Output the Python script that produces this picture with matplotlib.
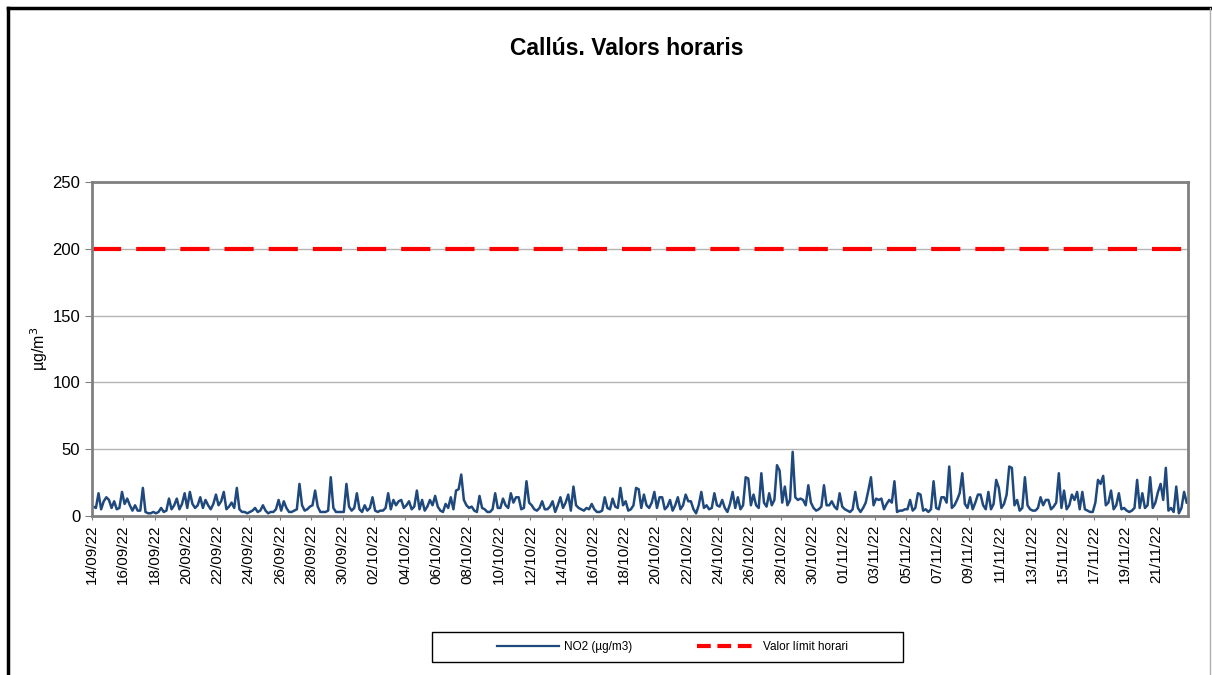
import numpy as np
import pandas as pd
import matplotlib
matplotlib.use("Agg")
import matplotlib.pyplot as plt
from matplotlib.lines import Line2D
from matplotlib.patches import Rectangle

plt.rcParams['font.family'] = ['Liberation Sans', 'DejaVu Sans']

# NO2 hourly values, 6 readings per day (02,06,10,14,18,22 h)
no2_per_day = [
    [7, 6, 17, 5, 11, 14], [12, 6, 11, 5, 6, 18], [9, 13, 8, 4, 8, 4], [4, 21, 3, 2, 2, 3],
    [2, 3, 6, 3, 4, 13], [5, 8, 13, 5, 9, 17], [6, 18, 9, 6, 8, 14], [6, 12, 8, 5, 9, 16],
    [8, 11, 18, 5, 7, 10], [6, 21, 5, 3, 3, 2], [3, 4, 6, 3, 4, 8], [4, 2, 3, 3, 5, 12],
    [4, 11, 6, 3, 3, 4], [5, 24, 8, 4, 5, 7], [8, 19, 7, 3, 3, 3], [4, 29, 6, 3, 3, 3],
    [3, 24, 7, 4, 6, 17], [5, 3, 8, 4, 6, 14], [4, 3, 4, 4, 6, 17], [5, 12, 8, 11, 12, 6],
    [8, 11, 5, 7, 19, 5], [12, 4, 7, 12, 8, 15], [7, 4, 3, 9, 6, 14], [5, 19, 20, 31, 12, 8],
    [6, 7, 4, 3, 15, 6], [5, 3, 3, 5, 17, 6], [6, 13, 8, 6, 17, 10], [14, 14, 5, 6, 26, 10],
    [8, 5, 4, 6, 11, 5], [5, 7, 11, 3, 8, 14], [6, 10, 16, 4, 22, 8], [6, 5, 4, 6, 5, 9],
    [5, 3, 3, 4, 14, 6], [5, 13, 7, 6, 21, 8], [11, 4, 5, 8, 21, 20], [6, 16, 8, 6, 10, 18],
    [6, 14, 14, 5, 7, 12], [4, 8, 14, 5, 8, 16], [11, 11, 5, 2, 8, 18], [6, 8, 5, 6, 17, 8],
    [7, 12, 6, 3, 9, 18], [6, 14, 5, 8, 29, 28], [8, 16, 8, 6, 32, 10], [7, 17, 8, 12, 38, 34],
    [10, 22, 8, 12, 48, 14], [12, 13, 12, 8, 23, 10], [6, 4, 5, 7, 23, 8], [8, 11, 7, 5, 17, 7],
    [5, 4, 3, 5, 18, 6], [3, 6, 10, 19, 29, 8], [13, 12, 13, 5, 9, 12], [10, 26, 3, 4, 4, 5],
    [5, 12, 4, 6, 17, 16], [4, 5, 3, 5, 26, 6], [5, 14, 14, 10, 37, 6], [8, 12, 17, 32, 9, 6],
    [14, 5, 10, 16, 16, 8], [5, 18, 5, 9, 27, 21], [6, 9, 16, 37, 36, 8], [12, 4, 6, 29, 8, 5],
    [4, 4, 6, 14, 8, 12], [12, 5, 7, 10, 32, 6], [19, 5, 8, 16, 12, 18], [5, 18, 5, 4, 3, 3],
    [10, 27, 24, 30, 8, 10], [19, 5, 8, 17, 5, 6], [4, 3, 4, 6, 27, 6], [17, 6, 8, 29, 6, 10],
    [18, 24, 12, 36, 4, 6], [3, 22, 2, 6, 18, 10],
]
no2 = np.array(no2_per_day, dtype=float).ravel()
times = pd.date_range("2022-09-14 02:00", periods=len(no2), freq="4h")

limit_value = 200
start_date = "2022-09-14"
end_date = "2022-11-23"
title = "Callús. Valors horaris"
ylabel = "µg/m$^3$"
legend_labels = ["NO2 (µg/m3)", "Valor límit horari"]

fig = plt.figure(figsize=(12.12, 6.75), dpi=100)
ax = fig.add_axes([0.0759, 0.2356, 0.9043, 0.4948])

ax.plot(times, no2, color="#1f497d", lw=1.8)
ax.axhline(limit_value, color="#ff0000", lw=3, dashes=(7, 3.6))

ax.set_xlim(pd.Timestamp(start_date), pd.Timestamp(end_date))
ax.set_ylim(0, 250)
ax.set_yticks(range(0, 251, 50))
ax.yaxis.grid(True, color="#b3b3b3", lw=1)
ax.set_axisbelow(True)
ticks = pd.date_range(start_date, "2022-11-21", freq="2D")
ax.set_xticks(ticks)
ax.set_xticklabels([t.strftime("%d/%m/%y") for t in ticks], rotation=90, fontsize=11)
ax.tick_params(axis="y", labelsize=12, length=5, color="#808080")
ax.tick_params(axis="x", length=3, color="#808080")
for s in ax.spines.values():
    s.set_color("#808080")
    s.set_linewidth(2)

ax.set_ylabel(ylabel, fontsize=11.5, labelpad=2)
fig.text(0.517, 0.928, title, ha="center", va="center", fontsize=16.5, fontweight="bold")

# legend box
fig.add_artist(Rectangle((432 / 1212, 13 / 675), 471 / 1212, 30 / 675, transform=fig.transFigure,
                         fill=False, edgecolor="black", lw=1))
handles = [Line2D([], [], color="#1f497d", lw=1.6),
           Line2D([], [], color="#ff0000", lw=3, dashes=(3.3, 1.6))]
fig.legend(handles, legend_labels, loc="center", bbox_to_anchor=(0.555, 0.0415), ncol=2,
           fontsize=8.5, frameon=False, handlelength=5.2, handletextpad=0.4, columnspacing=5.5)

# outer chart frame
fig.add_artist(Line2D([0.0066, 0.0066], [0, 0.988], color="black", lw=2.5, transform=fig.transFigure))
fig.add_artist(Line2D([0.0066, 1], [0.988, 0.988], color="black", lw=2.5, transform=fig.transFigure))
fig.add_artist(Line2D([0.9985, 0.9985], [0, 0.988], color="#b0b0b0", lw=1, transform=fig.transFigure))

fig.savefig("out.png", dpi=100)
